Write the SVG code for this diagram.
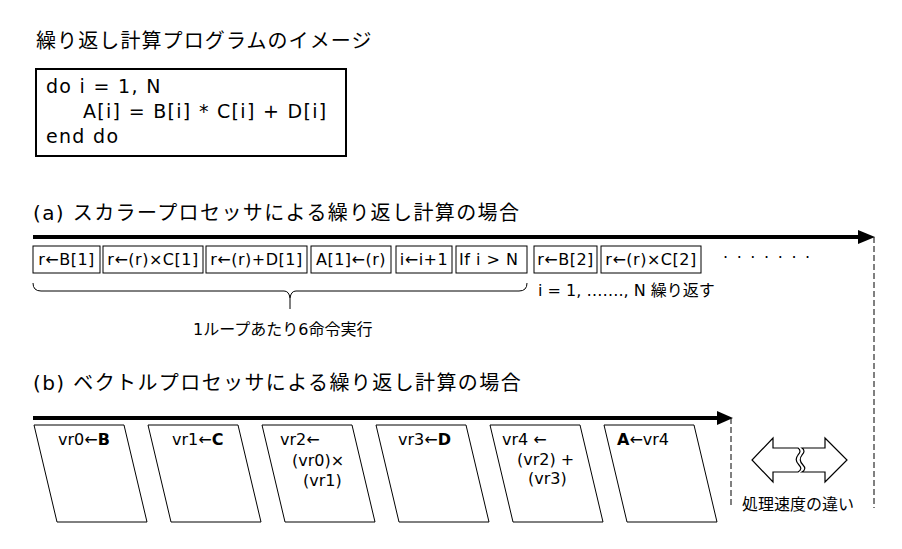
<svg xmlns="http://www.w3.org/2000/svg" width="902" height="549" viewBox="0 0 902 549">
<style>
text{font-family:"DejaVu Sans","Noto Sans CJK JP",sans-serif;fill:#000}
.t{font-size:20px}
.h{font-size:20px;letter-spacing:1.4px}
.code{font-size:19px;letter-spacing:1.3px}
.bx{fill:#fff;stroke:#000;stroke-width:1}
.bl{font-size:16px;letter-spacing:0.5px;text-anchor:middle}
.pl{fill:#fff;stroke:#000;stroke-width:1}
.pt{font-size:16px}
.b{font-weight:bold}
.ax{stroke:#000;stroke-width:4;fill:none}
.dash{stroke:#000;stroke-width:1;stroke-dasharray:6 3;fill:none}
.sm{font-size:16px}
</style>
<rect width="902" height="549" fill="#fff"/>
<text class="t" x="36" y="48" style="letter-spacing:1.1px">繰り返し計算プログラムのイメージ</text>
<g id="code">
<rect x="36" y="69" width="310" height="87" fill="#fff" stroke="#000" stroke-width="2"/>
<text class="code" x="46" y="93">do i = 1, N</text>
<text class="code" x="83" y="118">A[i] = B[i] * C[i] + D[i]</text>
<text class="code" x="46" y="143">end do</text>
</g>
<text class="h" x="33" y="220">(a) スカラープロセッサによる繰り返し計算の場合</text>
<g id="connectors">
<line class="ax" x1="33" y1="237" x2="860" y2="237"/>
<polygon points="858,230 875,237 858,244" fill="#000"/>
<line class="dash" x1="874" y1="237" x2="874" y2="508"/>
<line class="ax" x1="33" y1="418" x2="719" y2="418"/>
<polygon points="717,411 733,418 717,425" fill="#000"/>
<line class="dash" x1="731" y1="418" x2="731" y2="508"/>
<path d="M33,283 Q33,291 41,291 L284,291 Q289,291 290,298 Q291,291 296,291 L519,291 Q527,291 527,283 M290,298 L290,309" fill="none" stroke="#000" stroke-width="1"/>
</g>
<g id="a1"><rect class="bx" x="33" y="246" width="67" height="27"/><text class="bl" x="66.5" y="265">r←B[1]</text></g>
<g id="a2"><rect class="bx" x="103" y="246" width="100" height="27"/><text class="bl" x="153" y="265">r←(r)×C[1]</text></g>
<g id="a3"><rect class="bx" x="206" y="246" width="101" height="27"/><text class="bl" x="256.5" y="265">r←(r)+D[1]</text></g>
<g id="a4"><rect class="bx" x="311" y="246" width="80" height="27"/><text class="bl" x="351" y="265">A[1]←(r)</text></g>
<g id="a5"><rect class="bx" x="396" y="246" width="56" height="27"/><text class="bl" x="424" y="265">i←i+1</text></g>
<g id="a6"><rect class="bx" x="456" y="246" width="71" height="27"/><text class="sm" x="459" y="265" style="letter-spacing:0.5px">If i &gt; N</text></g>
<g id="a7"><rect class="bx" x="534" y="246" width="63" height="27"/><text class="bl" x="565.5" y="265">r←B[2]</text></g>
<g id="a8"><rect class="bx" x="601" y="246" width="100" height="27"/><text class="bl" x="651" y="265">r←(r)×C[2]</text></g>
<text class="sm" x="723" y="263" style="letter-spacing:8.6px">·······</text>
<text class="sm" x="538" y="296">i = 1, ……., N 繰り返す</text>
<text x="193" y="335" style="font-size:16px">1ループあたり6命令実行</text>
<text class="h" x="33" y="390">(b) ベクトルプロセッサによる繰り返し計算の場合</text>
<g id="v1"><polygon class="pl" points="34,425 124,425 147,522 57,522"/><text class="pt" x="58" y="445">vr0←<tspan class="b">B</tspan></text></g>
<g id="v2"><polygon class="pl" points="148,425 238,425 261,522 171,522"/><text class="pt" x="172" y="445">vr1←<tspan class="b">C</tspan></text></g>
<g id="v3"><polygon class="pl" points="262,425 352,425 375,522 285,522"/><text class="pt" x="280" y="445">vr2←</text><text class="pt" x="292" y="466">(vr0)×</text><text class="pt" x="303" y="486">(vr1)</text></g>
<g id="v4"><polygon class="pl" points="376,425 466,425 489,522 399,522"/><text class="pt" x="398" y="445">vr3←<tspan class="b">D</tspan></text></g>
<g id="v5"><polygon class="pl" points="490,425 580,425 603,522 513,522"/><text class="pt" x="502" y="445">vr4 ←</text><text class="pt" x="517" y="465">(vr2) +</text><text class="pt" x="528" y="484">(vr3)</text></g>
<g id="v6"><polygon class="pl" points="604,425 694,425 717,522 627,522"/><text class="pt" x="617" y="445"><tspan class="b">A</tspan>←vr4</text></g>
<g id="speed">
<path d="M798,448 L773,448 L773,438 L752,460 L773,482 L773,472 L798,472 Q803,469 799,465 Q794,460 798,455 Q802,451 798,448 Z" fill="#fff" stroke="#000" stroke-width="1.2"/>
<path d="M802,448 L825,448 L825,438 L847,460 L825,482 L825,472 L802,472 Q807,469 803,465 Q798,460 802,455 Q806,451 802,448 Z" fill="#fff" stroke="#000" stroke-width="1.2"/>
<text class="sm" x="742" y="510">処理速度の違い</text>
</g>
</svg>
